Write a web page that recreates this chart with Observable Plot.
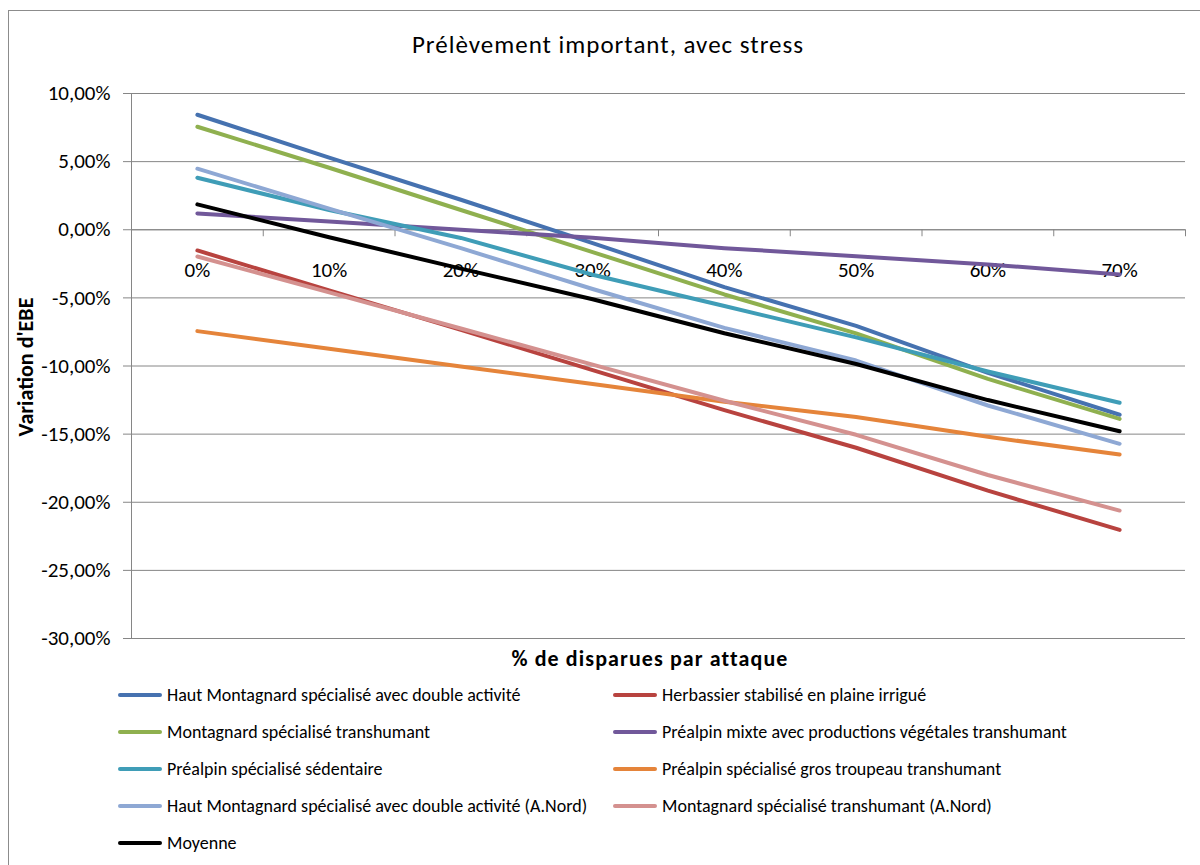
<!DOCTYPE html>
<html>
<head>
<meta charset="utf-8">
<script src="https://cdn.jsdelivr.net/npm/d3@7"></script>
<script src="https://cdn.jsdelivr.net/npm/@observablehq/plot@0.6"></script>
<style>
  html, body { margin: 0; padding: 0; background: #fff; }
  body { width: 1200px; height: 865px; overflow: hidden; font-family: Carlito, Calibri, Lato, "Open Sans", sans-serif; }
  #wrap { position: relative; width: 1200px; height: 865px; }
  #frame { position: absolute; left: 8px; top: 10px; width: 1300px; height: 1000px; border: 1px solid #8c8c8c; box-sizing: border-box; }
  #chart { position: absolute; left: 0; top: 0; }
  .abs { position: absolute; white-space: nowrap; color: #000; }
  #title { left: 0; width: 1216px; top: 29px; text-align: center; font-size: 25px; letter-spacing: 1px; }
  #ytitle { left: 25px; top: 367px; transform: translate(-50%, -50%) rotate(-90deg); font-size: 22px; font-weight: bold; }
  #xtitle { left: 0; width: 1300px; top: 645px; text-align: center; font-size: 22px; font-weight: bold; letter-spacing: 1.1px; }
  .leg { position: absolute; display: flex; align-items: center; font-size: 18px; white-space: nowrap; }
  .sw { width: 44px; height: 4px; border-radius: 2px; margin-right: 5px; margin-left: 1px; }
</style>
</head>
<body>
<div id="wrap">
  <div id="frame"></div>
  <div id="chart"></div>
  <div id="title" class="abs">Prélèvement important, avec stress</div>
  <div id="ytitle" class="abs">Variation d'EBE</div>
  <div id="xtitle" class="abs">% de disparues par attaque</div>
  <div id="legend"></div>
</div>
<script>
// ---- Data (values in %) ----
const xLabels = ["0%", "10%", "20%", "30%", "40%", "50%", "60%", "70%"];
const xValues = [0, 10, 20, 30, 40, 50, 60, 70];
const xBoundaries = [-5, 5, 15, 25, 35, 45, 55, 65, 75];
const yTicks = [-30, -25, -20, -15, -10, -5, 0, 5, 10];

const seriesNames = [
  "Haut Montagnard spécialisé avec double activité",
  "Herbassier stabilisé en plaine irrigué",
  "Montagnard spécialisé transhumant",
  "Préalpin mixte avec productions végétales transhumant",
  "Préalpin spécialisé sédentaire",
  "Préalpin spécialisé gros troupeau transhumant",
  "Haut Montagnard spécialisé avec double activité (A.Nord)",
  "Montagnard spécialisé transhumant (A.Nord)",
  "Moyenne"
];
const seriesColors = ["#4672B0", "#B8433F", "#8FB04F", "#71589A", "#3F9DB7", "#E5843A", "#8EA8D4", "#D4918F", "#000000"];

const hautMontagnard      = [8.44, 5.30, 2.20, -0.98, -4.21, -7.05, -10.50, -13.58];
const herbassier          = [-1.52, -4.45, -7.35, -10.30, -13.24, -16.00, -19.15, -22.03];
const montagnard          = [7.56, 4.55, 1.45, -1.64, -4.75, -7.60, -10.95, -13.88];
const prealpinMixte       = [1.20, 0.60, 0.00, -0.59, -1.35, -1.95, -2.55, -3.28];
const prealpinSedentaire  = [3.82, 1.45, -0.60, -3.30, -5.60, -7.90, -10.40, -12.70];
const prealpinGrosTroupeau= [-7.44, -8.73, -10.03, -11.32, -12.62, -13.75, -15.20, -16.50];
const hautMontagnardNord  = [4.48, 1.55, -1.35, -4.35, -7.20, -9.60, -12.90, -15.71];
const montagnardNord      = [-1.96, -4.60, -7.25, -9.90, -12.55, -15.05, -18.00, -20.61];
const moyenne             = [1.86, -0.55, -2.85, -5.10, -7.60, -9.85, -12.50, -14.79];

const seriesValues = [hautMontagnard, herbassier, montagnard, prealpinMixte, prealpinSedentaire,
  prealpinGrosTroupeau, hautMontagnardNord, montagnardNord, moyenne];

// ---- Build table ----
const rows = [];
seriesNames.forEach((name, s) => {
  seriesValues[s].forEach((v, i) => rows.push({series: name, x: xValues[i], y: v}));
});
const labelRows = xLabels.map((l, i) => ({x: xValues[i], label: l}));

const grey = "#868686";
const fmt = d => d.toFixed(2).replace(".", ",") + "%";

const chart = Plot.plot({
  width: 1200,
  height: 865,
  marginLeft: 131,
  marginRight: 15,
  marginTop: 93,
  marginBottom: 227,
  style: {fontFamily: "Carlito, Calibri, Lato, 'Open Sans', sans-serif", background: "transparent", overflow: "visible"},
  x: {type: "linear", domain: [-5, 75], axis: null},
  y: {domain: [-30, 10], axis: null},
  color: {domain: seriesNames, range: seriesColors},
  marks: [
    Plot.gridY(yTicks, {stroke: grey, strokeOpacity: 1, strokeWidth: 1}),
    Plot.ruleX([-5], {stroke: grey, strokeWidth: 1}),
    Plot.axisY({ticks: yTicks, tickFormat: fmt, tickSize: 8, tickPadding: 13, stroke: grey, fill: "#000", fontSize: 21, label: null}),
    Plot.ruleY([0], {stroke: grey, strokeWidth: 1}),
    Plot.ruleX(xBoundaries, {y1: 0, y2: 0, insetBottom: -7, stroke: grey, strokeWidth: 1}),
    Plot.text(labelRows, {x: "x", y: () => 0, text: "label", dy: 41, fontSize: 21, fill: "#000"}),
    Plot.line(rows, {x: "x", y: "y", z: "series", stroke: "series", strokeWidth: 4, strokeLinecap: "round", strokeLinejoin: "round"})
  ]
});
document.getElementById("chart").appendChild(chart);

// ---- Legend ----
const legend = document.getElementById("legend");
const legendCols = [117, 612];
const legendRows = [695, 732, 769, 806, 843];
seriesNames.forEach((name, i) => {
  const d = document.createElement("div");
  d.className = "leg";
  d.style.left = legendCols[i % 2] + "px";
  d.style.top = (legendRows[Math.floor(i / 2)] - 11) + "px";
  d.style.height = "22px";
  const sw = document.createElement("div");
  sw.className = "sw";
  sw.style.background = seriesColors[i];
  const t = document.createElement("span");
  t.textContent = name;
  d.appendChild(sw);
  d.appendChild(t);
  legend.appendChild(d);
});
</script>
</body>
</html>
